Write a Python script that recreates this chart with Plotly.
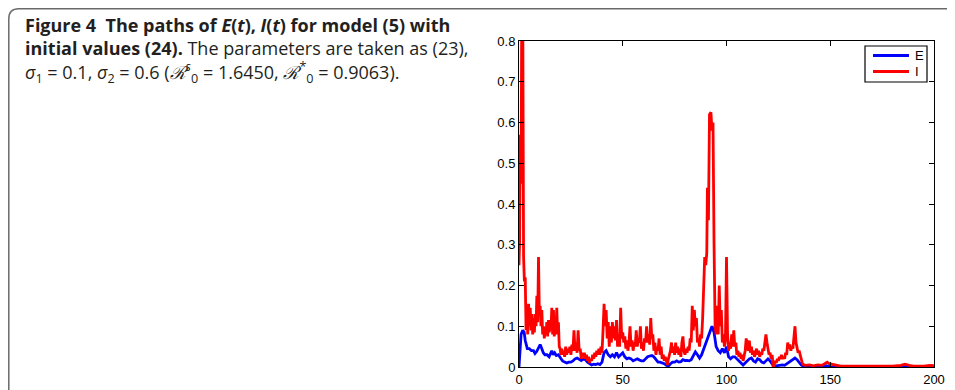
import plotly.graph_objects as go

# ---- data ----
E_t = [0, 0.5, 1.0, 1.8, 2.5, 3.0, 3.5, 4, 5, 6, 7, 7.7, 8.5, 9.5, 10.2, 11, 11.7, 12.5, 13.5, 14.5,
       15.3, 15.8, 16.5, 17.2, 18, 19, 20, 21, 22, 23, 24, 25, 26, 27, 28, 29, 30, 31, 32, 33, 34, 35,
       36, 37, 38, 39, 40, 41, 42, 43, 44, 45, 46, 47, 48, 49, 50, 51, 52, 53, 54, 55, 56, 57, 58, 59,
       60, 61, 62, 63, 64, 65, 66, 67, 68, 69, 70, 71, 72, 73, 74, 75, 76, 77, 78, 79, 80, 81, 82, 83,
       84, 85, 86, 87, 88, 89, 90, 91, 92, 93, 94, 95, 96, 97, 98, 99, 100, 101, 102, 103, 104, 105,
       106, 107, 108, 109, 110, 111, 112, 113, 114, 115, 116, 117, 118, 119, 120, 121, 122, 123, 124,
       125, 126, 127, 128, 129, 130, 131, 132, 133, 134, 135, 136, 137, 140, 147, 148, 150, 160, 186, 200]
E_v = [0.0, 0.05, 0.08, 0.09, 0.085, 0.065, 0.05, 0.045, 0.045, 0.04, 0.04, 0.033, 0.038, 0.05, 0.055,
       0.045, 0.035, 0.03, 0.03, 0.025, 0.035, 0.04, 0.03, 0.035, 0.028, 0.03, 0.022, 0.015, 0.012, 0.01,
       0.012, 0.012, 0.015, 0.02, 0.022, 0.018, 0.016, 0.02, 0.018, 0.012, 0.008, 0.005, 0.007, 0.006,
       0.008, 0.006, 0.012, 0.035, 0.04, 0.03, 0.025, 0.03, 0.025, 0.035, 0.025, 0.03, 0.035, 0.025, 0.02,
       0.022, 0.02, 0.015, 0.018, 0.02, 0.017, 0.015, 0.015, 0.02, 0.025, 0.027, 0.028, 0.025, 0.018,
       0.012, 0.012, 0.01, 0.008, 0.004, 0.002, 0.008, 0.012, 0.012, 0.015, 0.012, 0.013, 0.018, 0.016,
       0.016, 0.015, 0.018, 0.028, 0.037, 0.03, 0.022, 0.03, 0.045, 0.06, 0.07, 0.085, 0.1, 0.085, 0.05,
       0.04, 0.035, 0.045, 0.035, 0.05, 0.025, 0.02, 0.025, 0.025, 0.02, 0.015, 0.01, 0.005, 0.01, 0.015,
       0.02, 0.022, 0.015, 0.012, 0.02, 0.018, 0.012, 0.01, 0.015, 0.02, 0.015, 0.008, 0.0, 0.003, 0.004,
       0.004, 0.005, 0.004, 0.008, 0.012, 0.016, 0.02, 0.022, 0.018, 0.012, 0.005, 0.002, 0.001, 0.001,
       0.003, 0.001, 0.0005, 0.001, 0.0005]

I_t = [0, 0.3, 0.6, 1.0, 1.3, 1.8, 2.2, 2.6, 3.0, 3.4, 3.8, 4.2, 4.6, 5.0, 5.4, 5.8, 6.2, 6.6, 7.0, 7.4,
       7.8, 8.2, 8.6, 9.0, 9.4, 9.8, 10.2, 10.6, 11.0, 11.4, 11.8, 12.2, 12.6, 13.0, 13.4, 13.8, 14.2,
       14.6, 15.0, 15.4, 15.8, 16.2, 16.6, 17.0, 17.4, 17.8, 18.2, 18.6, 19.0, 19.4, 19.8, 20.2, 20.6,
       21.0, 21.5, 22.0, 22.5, 23.0, 23.5, 24.0, 24.5, 25.0, 25.5, 26.0, 26.5, 27.0, 27.5, 28.0, 28.5,
       29.0, 29.5, 30.0, 30.5, 31.0, 31.5, 32.0, 32.5, 33.0, 33.5, 34.0, 34.5, 35.0, 35.5, 36.0, 36.5,
       37.0, 37.5, 38.0, 38.5, 39.0, 39.5, 40.0, 40.5, 41.0, 41.5, 42.0, 42.5, 43.0, 43.5, 44.0, 44.5,
       45.0, 45.5, 46.0, 46.5, 47.0, 47.5, 48.0, 48.5, 49.0, 49.5, 50.0, 50.5, 51.0, 51.5, 52.0, 52.5,
       53.0, 53.5, 54.0, 54.5, 55.0, 55.5, 56.0, 56.5, 57.0, 57.5, 58.0, 58.5, 59.0, 59.5, 60.0, 60.5,
       61.0, 61.5, 62.0, 62.5, 63.0, 63.5, 64.0, 64.5, 65.0, 65.5, 66.0, 66.5, 67.0, 67.5, 68.0, 68.5,
       69.0, 69.5, 70.0, 70.5, 71.0, 71.5, 72.0, 72.5, 73.0, 73.5, 74.0, 74.5, 75.0, 75.5, 76.0, 76.5,
       77.0, 77.5, 78.0, 78.5, 79.0, 79.5, 80.0, 80.5, 81.0, 81.5, 82.0, 82.5, 83.0, 83.5, 84.0, 84.5,
       85.0, 85.5, 86.0, 86.5, 87.0, 87.5, 88.0, 88.5, 89.0, 89.5, 90.0, 90.5, 90.8, 91.3, 91.8, 92.5,
       93.0, 93.5, 94.0, 94.5, 95.0, 95.5, 96.0, 96.5, 97.0, 97.5, 98.0, 98.5, 99.0, 99.5, 100.0, 100.5,
       101.0, 101.5, 102.0, 102.5, 103.0, 103.5, 104.0, 104.5, 105.0, 105.5, 106.0, 106.5, 107.0, 107.5,
       108.0, 108.5, 109.0, 109.5, 110.0, 110.5, 111.0, 111.5, 112.0, 112.5, 113.0, 113.5, 114.0, 114.5,
       115.0, 115.5, 116.0, 116.5, 117.0, 117.5, 118.0, 118.5, 119.0, 119.5, 120.0, 120.5, 121.0, 121.5,
       122.0, 122.5, 123.0, 123.5, 124.0, 124.5, 125.0, 125.5, 126.0, 126.5, 127.0, 127.5, 128.0, 128.5,
       129.0, 129.5, 130.0, 130.5, 131.0, 131.5, 132.0, 132.5, 133.0, 133.5, 134.0, 134.5, 135.0, 135.5,
       136.0, 136.5, 137.0, 138, 140, 142, 144, 146, 147.5, 148.5, 149.5, 151, 153, 155, 160, 165, 170,
       175, 180, 184, 186, 188, 190, 195, 198, 200]
I_v = [0.25, 0.31, 0.57, 0.45, 0.85, 0.9, 0.27, 0.21, 0.22, 0.09, 0.12, 0.08, 0.155, 0.10, 0.145, 0.09,
       0.13, 0.08, 0.12, 0.085, 0.13, 0.10, 0.175, 0.11, 0.27, 0.13, 0.15, 0.10, 0.14, 0.08, 0.10, 0.07,
       0.095, 0.08, 0.11, 0.075, 0.115, 0.085, 0.11, 0.09, 0.145, 0.08, 0.14, 0.075, 0.12, 0.08, 0.145,
       0.08, 0.11, 0.05, 0.045, 0.03, 0.045, 0.03, 0.04, 0.025, 0.05, 0.03, 0.045, 0.035, 0.05, 0.03,
       0.055, 0.04, 0.09, 0.04, 0.06, 0.035, 0.09, 0.04, 0.045, 0.02, 0.035, 0.025, 0.035, 0.02, 0.03,
       0.015, 0.025, 0.01, 0.02, 0.015, 0.03, 0.02, 0.035, 0.025, 0.04, 0.03, 0.045, 0.03, 0.05, 0.035,
       0.09, 0.155, 0.1, 0.14, 0.07, 0.11, 0.05, 0.1, 0.06, 0.11, 0.07, 0.1, 0.065, 0.115, 0.05, 0.08,
       0.05, 0.145, 0.07, 0.085, 0.06, 0.075, 0.045, 0.065, 0.04, 0.06, 0.1, 0.05, 0.065, 0.04, 0.06,
       0.05, 0.09, 0.05, 0.07, 0.06, 0.1, 0.045, 0.06, 0.04, 0.07, 0.06, 0.1, 0.06, 0.08, 0.055, 0.12,
       0.07, 0.08, 0.04, 0.06, 0.03, 0.05, 0.04, 0.07, 0.03, 0.05, 0.02, 0.03, 0.015, 0.025, 0.01, 0.005,
       0.02, 0.03, 0.04, 0.06, 0.035, 0.05, 0.03, 0.06, 0.035, 0.05, 0.03, 0.045, 0.025, 0.06, 0.075,
       0.04, 0.03, 0.045, 0.035, 0.05, 0.04, 0.07, 0.06, 0.15, 0.09, 0.14, 0.1, 0.12, 0.06, 0.07, 0.05,
       0.08, 0.07, 0.12, 0.2, 0.27, 0.25, 0.28, 0.44, 0.36, 0.62, 0.625, 0.58, 0.6, 0.3, 0.1, 0.08, 0.15,
       0.08, 0.2, 0.1, 0.14, 0.06, 0.08, 0.05, 0.07, 0.27, 0.08, 0.04, 0.06, 0.045, 0.08, 0.05, 0.09,
       0.05, 0.06, 0.03, 0.04, 0.025, 0.035, 0.02, 0.03, 0.015, 0.025, 0.04, 0.07, 0.05, 0.04, 0.065,
       0.035, 0.05, 0.03, 0.04, 0.025, 0.035, 0.045, 0.03, 0.04, 0.025, 0.035, 0.03, 0.045, 0.04, 0.06,
       0.08, 0.06, 0.04, 0.03, 0.035, 0.02, 0.03, 0.0, 0.005, 0.015, 0.01, 0.02, 0.015, 0.025, 0.02, 0.03,
       0.02, 0.025, 0.02, 0.035, 0.03, 0.06, 0.045, 0.055, 0.04, 0.05, 0.045, 0.07, 0.1, 0.06, 0.05,
       0.035, 0.04, 0.025, 0.02, 0.01, 0.006, 0.004, 0.005, 0.003, 0.005, 0.004, 0.01, 0.012, 0.008,
       0.006, 0.003, 0.002, 0.002, 0.002, 0.001, 0.002, 0.002, 0.004, 0.007, 0.004, 0.002, 0.002, 0.004,
       0.003]

series_names = ["E", "I"]
series_colors = ["#0000FF", "#FF0000"]

x_ticks = [0, 50, 100, 150, 200]
y_ticks = [0, 0.1, 0.2, 0.3, 0.4, 0.5, 0.6, 0.7, 0.8]
y_tick_text = ["0", "0.1", "0.2", "0.3", "0.4", "0.5", "0.6", "0.7", "0.8"]

caption_lines = [
    "<b>Figure 4  The paths of <i>E</i>(<i>t</i>), <i>I</i>(<i>t</i>) for model (5) with</b>",
    "<b>initial values (24).</b> The parameters are taken as (23),",
    "<i>σ</i><sub>1</sub> = 0.1, <i>σ</i><sub>2</sub> = 0.6 (<i>ℛ</i><sup><i>s</i></sup><sub>0</sub> = 1.6450, "
    "<i>ℛ</i><sup>*</sup><sub>0</sub> = 0.9063).",
]

# ---- layout geometry (figure pixels; the page body shifts the figure by 8px) ----
OFF = 8
W, H = 955, 390
L, R, T, B = 519 - OFF, 934 - OFF, 41 - OFF, 367 - OFF
pw, ph = R - L, B - T

def px(x):
    return (x - L) / pw

def py(y):
    return (B - y) / ph

fig = go.Figure()
fig.add_trace(go.Scatter(x=E_t, y=E_v, mode="lines", name=series_names[0],
                         line=dict(color=series_colors[0], width=2.8), showlegend=False))
fig.add_trace(go.Scatter(x=I_t, y=I_v, mode="lines", name=series_names[1],
                         line=dict(color=series_colors[1], width=2.8), showlegend=False))

axis_common = dict(showline=True, linecolor="black", linewidth=1, mirror="ticks",
                   ticks="inside", ticklen=5, tickcolor="black", showgrid=False,
                   zeroline=False, tickfont=dict(family="Liberation Sans, Arial", size=13, color="black"))
fig.update_xaxes(range=[0, 200], tickvals=x_ticks, **axis_common)
fig.update_yaxes(range=[0, 0.8], tickvals=y_ticks, ticktext=y_tick_text, **axis_common)

# figure frame with rounded top-left corner
r = 10
x0, y0 = 0.8, 0.8
path = (f"M {px(x0)},{py(H + 5)} L {px(x0)},{py(y0 + r)} "
        f"Q {px(x0)},{py(y0)} {px(x0 + r)},{py(y0)} L {px(W + 5)},{py(y0)}")
fig.add_shape(type="path", path=path, xref="paper", yref="paper",
              line=dict(color="#6a6a6a", width=1.5))

# MATLAB-style legend box (page pixels minus body offset)
lg_x0, lg_x1, lg_y0, lg_y1 = 865 - OFF, 927 - OFF, 46 - OFF, 82 - OFF
fig.add_shape(type="rect", xref="paper", yref="paper",
              x0=px(lg_x0), x1=px(lg_x1), y0=py(lg_y1), y1=py(lg_y0),
              line=dict(color="black", width=1.2), fillcolor="white", layer="above")
for k, (nm, col) in enumerate(zip(series_names, series_colors)):
    yy = 55.5 - OFF + k * 16
    fig.add_shape(type="line", xref="paper", yref="paper",
                  x0=px(873 - OFF), x1=px(909 - OFF), y0=py(yy), y1=py(yy),
                  line=dict(color=col, width=2.8), layer="above")
    fig.add_annotation(text=nm, xref="paper", yref="paper", x=px(913 - OFF), y=py(yy),
                       xanchor="left", yanchor="middle", showarrow=False,
                       font=dict(family="Liberation Sans, Arial", size=13, color="black"))

# caption as a single multi-line text block
fig.add_annotation(text="<br>".join(caption_lines), xref="paper", yref="paper",
                   x=px(23 - OFF), y=py(11 - OFF),
                   xanchor="left", yanchor="top", showarrow=False, align="left",
                   font=dict(family="Open Sans", size=18, color="#231f20"))

fig.update_layout(
    width=W, height=H, margin=dict(l=L, r=W - R, t=T, b=H - B),
    paper_bgcolor="white", plot_bgcolor="white",
    showlegend=False,
)

fig.write_html("out.html")
